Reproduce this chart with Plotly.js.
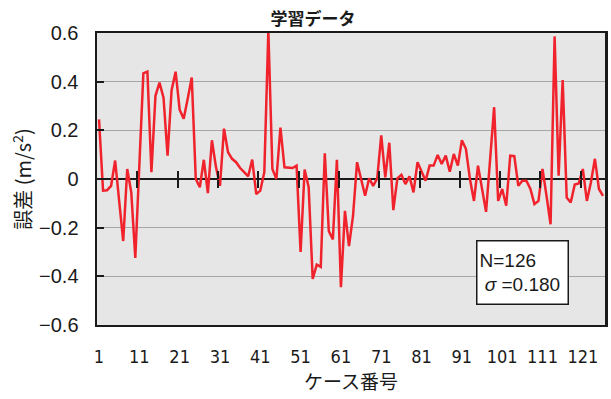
<!DOCTYPE html>
<html>
<head>
<meta charset="utf-8">
<script src="https://cdn.plot.ly/plotly-3.0.1.min.js"></script>
<style>
  html, body { margin: 0; padding: 0; background: #ffffff; }
  #chart { width: 611px; height: 399px; }
</style>
</head>
<body>
<div id="chart"></div>
<script>
// Prediction error per training case (m/s^2)
const errors = [
  0.245, -0.048, -0.046, -0.028, 0.076, -0.08, -0.255, 0.041, -0.055, -0.324,
  0.05, 0.434, 0.441, 0.028, 0.342, 0.396, 0.334, 0.096, 0.365, 0.441,
  0.285, 0.248, 0.33, 0.417, 0.0, -0.034, 0.079, -0.058, 0.159, 0.05,
  -0.028, 0.207, 0.11, 0.083, 0.069, 0.045, 0.028, 0.011, 0.08, -0.062,
  -0.048, 0.028, 0.61, 0.041, 0.0, 0.211, 0.048, 0.045, 0.045, 0.055,
  -0.3, 0.039, -0.034, -0.411, -0.352, -0.361, 0.106, -0.214, -0.248, 0.079,
  -0.445, -0.131, -0.276, -0.152, 0.069, 0.0, -0.069, 0.003, -0.028, 0.003,
  0.179, 0.007, 0.149, -0.128, 0.003, 0.017, -0.021, 0.011, -0.055, 0.069,
  0.034, -0.007, 0.055, 0.055, 0.099, 0.062, 0.096, 0.03, 0.103, 0.055,
  0.159, 0.124, 0.0, -0.09, 0.055, -0.041, -0.135, 0.08, 0.295, -0.09,
  -0.041, -0.11, 0.096, 0.094, -0.028, -0.007, -0.007, -0.041, -0.103, -0.09,
  0.041, -0.07, -0.186, 0.586, 0.014, 0.407, -0.076, -0.097, -0.023, -0.018,
  0.041, -0.09, -0.014, 0.083, -0.041, -0.069
];

// Case numbers 1..N along the category axis
const caseNo = errors.map((_, i) => i + 1);

// Labelled cases and category boundaries marked on the zero line
const labelCases = [1, 11, 21, 31, 41, 51, 61, 71, 81, 91, 101, 111, 121];
const labelText  = ['1', '11', '21', '31', '41', '51', '61', '71', '81', '91', '101', '111', '121'];
const boundaryTicks = [10.5, 20.5, 30.5, 40.5, 50.5, 60.5, 70.5, 80.5, 90.5, 100.5, 110.5, 120.5];

const yTicks = [-0.6, -0.4, -0.2, 0, 0.2, 0.4, 0.6];
const yTickText = ['\u22120.6', '\u22120.4', '\u22120.2', '0', '0.2', '0.4', '0.6'];

const statsText = 'N=126<br> <i>\u03c3</i> =0.180';

const xRange = [0.5, caseNo.length + 0.5];
const latin = 'Liberation Sans, Arial, sans-serif';
const narrow = 'Liberation Sans Narrow, DejaVu Sans Condensed, Liberation Sans, sans-serif';
const cjk = 'Noto Sans CJK JP, Noto Sans, sans-serif';

const trace = {
  x: caseNo,
  y: errors,
  type: 'scatter',
  mode: 'lines',
  line: { color: '#f0232d', width: 2.5 },
  hoverinfo: 'x+y',
  showlegend: false
};

const tickAxis = (side) => ({
  overlaying: 'x',
  anchor: 'free',
  position: 0.5,
  range: xRange,
  tickmode: 'array',
  tickvals: boundaryTicks,
  ticks: side,
  ticklen: 8,
  tickwidth: 2,
  tickcolor: '#1a1a1a',
  showticklabels: false,
  showgrid: false,
  showline: false,
  zeroline: false
});

const layout = {
  width: 611,
  height: 399,
  margin: { l: 97, r: 6, t: 33, b: 74 },
  paper_bgcolor: '#ffffff',
  plot_bgcolor: '#e6e6e6',
  title: {
    text: '<b>学習データ</b>',
    font: { family: cjk, size: 17, color: '#1a1a1a' },
    x: 313 / 611,
    xanchor: 'center',
    y: 1 - 19 / 399,
    yanchor: 'middle'
  },
  xaxis: {
    range: xRange,
    tickmode: 'array',
    tickvals: labelCases,
    ticktext: labelText,
    ticks: '',
    ticklabelstandoff: 14,
    tickfont: { family: narrow, size: 18, color: '#1a1a1a' },
    showgrid: false,
    zeroline: false,
    showline: true,
    linecolor: '#1a1a1a',
    linewidth: 2,
    mirror: true,
    title: {
      text: 'ケース番号',
      font: { family: cjk, size: 19, color: '#1a1a1a' },
      standoff: 7
    }
  },
  xaxis2: tickAxis('outside'),
  xaxis3: tickAxis('inside'),
  yaxis: {
    range: [-0.6, 0.6],
    tickmode: 'array',
    tickvals: yTicks,
    ticktext: yTickText,
    ticks: 'inside',
    ticklen: 7,
    tickwidth: 2,
    tickcolor: '#1a1a1a',
    ticklabelstandoff: 12,
    tickfont: { family: latin, size: 20, color: '#1a1a1a' },
    showgrid: true,
    gridcolor: '#a6a6a6',
    gridwidth: 1,
    zeroline: true,
    zerolinecolor: '#1a1a1a',
    zerolinewidth: 2.5,
    showline: true,
    linecolor: '#1a1a1a',
    linewidth: 2.5,
    mirror: true,
    title: {
      text: '誤差 (m/s<sup>2</sup>)',
      font: { family: cjk, size: 20, color: '#1a1a1a' },
      standoff: 2
    }
  },
  annotations: [{
    xref: 'paper', yref: 'paper',
    x: (476 - 97) / 508, y: (325 - 240) / 292,
    xanchor: 'left', yanchor: 'top',
    text: statsText,
    align: 'left',
    valign: 'middle',
    showarrow: false,
    width: 86,
    height: 58,
    borderpad: 2,
    bgcolor: '#ffffff',
    bordercolor: '#1a1a1a',
    borderwidth: 1.5,
    font: { family: latin, size: 19, color: '#1a1a1a' }
  }]
};

// Empty traces bind the boundary-tick axes so they are drawn
const tickTrace2 = { x: [], y: [], xaxis: 'x2', yaxis: 'y', type: 'scatter', mode: 'lines', showlegend: false, hoverinfo: 'skip' };
const tickTrace3 = { x: [], y: [], xaxis: 'x3', yaxis: 'y', type: 'scatter', mode: 'lines', showlegend: false, hoverinfo: 'skip' };

Plotly.newPlot('chart', [trace, tickTrace2, tickTrace3], layout, { displayModeBar: false, staticPlot: true });
</script>
</body>
</html>
